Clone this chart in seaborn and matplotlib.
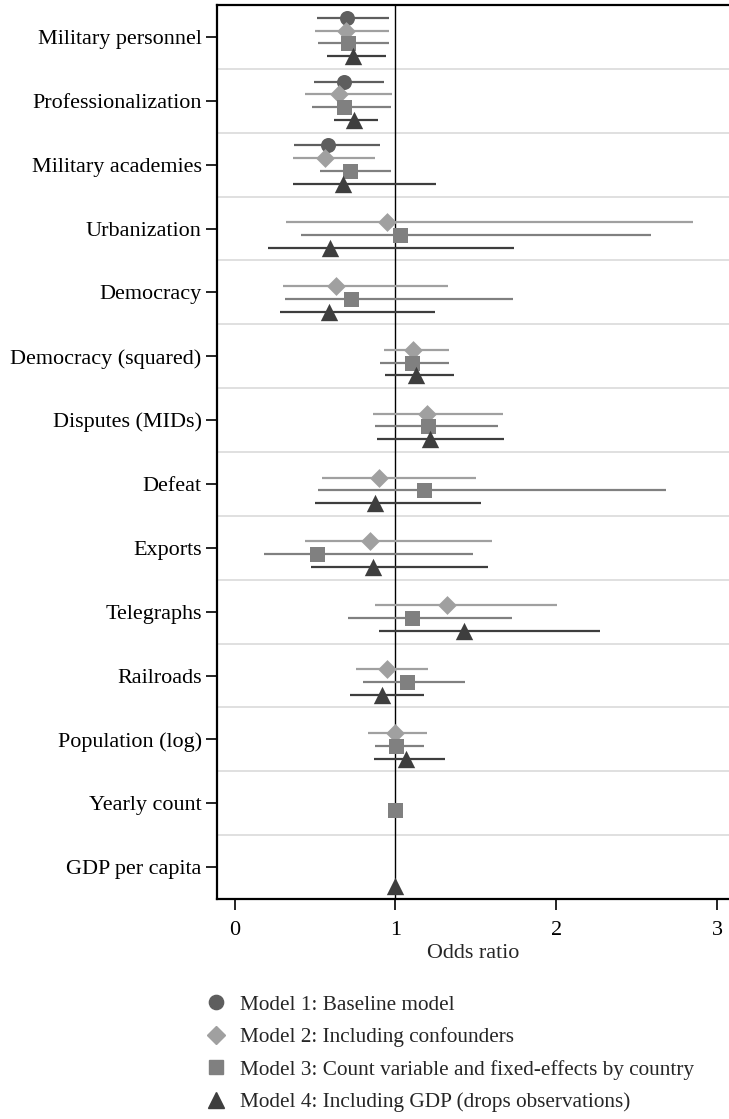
import numpy as np
import pandas as pd
import matplotlib
matplotlib.use('Agg')
import matplotlib.pyplot as plt
import seaborn as sns
from matplotlib.lines import Line2D

nan = np.nan

variables = ['Military personnel', 'Professionalization', 'Military academies',
             'Urbanization', 'Democracy', 'Democracy (squared)', 'Disputes (MIDs)',
             'Defeat', 'Exports', 'Telegraphs', 'Railroads', 'Population (log)',
             'Yearly count', 'GDP per capita']

model_names = ['Model 1: Baseline model',
               'Model 2: Including confounders',
               'Model 3: Count variable and fixed-effects by country',
               'Model 4: Including GDP (drops observations)']

# odds ratios and 95% CI per model
m1_or = [0.70, 0.68, 0.58, nan, nan, nan, nan, nan, nan, nan, nan, nan, nan, nan]
m1_lo = [0.51, 0.495, 0.37, nan, nan, nan, nan, nan, nan, nan, nan, nan, nan, nan]
m1_hi = [0.96, 0.93, 0.905, nan, nan, nan, nan, nan, nan, nan, nan, nan, nan, nan]

m2_or = [0.69, 0.65, 0.56, 0.95, 0.63, 1.11, 1.195, 0.90, 0.84, 1.32, 0.95, 0.995, nan, nan]
m2_lo = [0.50, 0.44, 0.36, 0.32, 0.30, 0.93, 0.86, 0.545, 0.44, 0.875, 0.755, 0.83, nan, nan]
m2_hi = [0.96, 0.98, 0.87, 2.85, 1.325, 1.335, 1.67, 1.50, 1.60, 2.005, 1.20, 1.195, nan, nan]

m3_or = [0.705, 0.68, 0.715, 1.03, 0.725, 1.10, 1.20, 1.18, 0.515, 1.10, 1.07, 1.005, 0.995, nan]
m3_lo = [0.52, 0.48, 0.53, 0.415, 0.31, 0.905, 0.875, 0.52, 0.18, 0.705, 0.80, 0.87, nan, nan]
m3_hi = [0.96, 0.97, 0.97, 2.59, 1.73, 1.335, 1.635, 2.685, 1.48, 1.725, 1.435, 1.175, nan, nan]

m4_or = [0.735, 0.74, 0.675, 0.595, 0.585, 1.13, 1.215, 0.875, 0.86, 1.425, 0.915, 1.065, nan, 1.0]
m4_lo = [0.575, 0.62, 0.365, 0.205, 0.28, 0.935, 0.885, 0.50, 0.475, 0.895, 0.715, 0.865, nan, nan]
m4_hi = [0.94, 0.89, 1.25, 1.735, 1.245, 1.365, 1.675, 1.535, 1.575, 2.275, 1.175, 1.31, nan, nan]

ors = [m1_or, m2_or, m3_or, m4_or]
los = [m1_lo, m2_lo, m3_lo, m4_lo]
his = [m1_hi, m2_hi, m3_hi, m4_hi]

# style
colors = ['#5e5e5e', '#a0a0a0', '#808080', '#3e3e3e']
markers = ['o', 'D', 's', '^']
msizes = [10.8, 9.6, 10.8, 12.5]
offsets = [-0.3, -0.1, 0.1, 0.3]

sns.set_style('white')
plt.rcParams['font.family'] = ['Liberation Serif', 'DejaVu Serif']
fs = 15.9

fig = plt.figure(figsize=(7.29, 11.19), dpi=100)
ax = fig.add_axes([217 / 729, 1 - 899 / 1119, 1 - 217 / 729, (899 - 5) / 1119])

# separators between variables
for b in np.arange(0.5, len(variables) - 1, 1):
    ax.axhline(b, color='#e0e0e0', lw=1.4, zorder=0)
ax.axvline(1, color='black', lw=1.0, zorder=1)

for k in range(4):
    df = pd.DataFrame({'var': variables, 'or': ors[k], 'lo': los[k], 'hi': his[k]})
    df['y'] = np.arange(len(variables)) + offsets[k]
    ci = df.dropna(subset=['lo'])
    ax.hlines(ci['y'], ci['lo'], ci['hi'], color=colors[k], lw=1.6, zorder=2 + k)
    sns.scatterplot(data=df.dropna(subset=['or']), x='or', y='y', marker=markers[k],
                    s=msizes[k] ** 2, color=colors[k], linewidth=0, ax=ax,
                    zorder=10 + k, legend=False)

ax.set_xlim(-0.11, 3.075)
ax.set_ylim(len(variables) - 0.5, -0.5)
ax.set_yticks(range(len(variables)))
ax.set_yticklabels(variables, fontsize=fs)
ax.set_xticks([0, 1, 2, 3])
ax.set_xticklabels(['0', '1', '2', '3'], fontsize=fs)
ax.set_xlabel('Odds ratio', fontsize=fs, labelpad=3)
ax.set_ylabel('')
ax.tick_params(axis='y', length=8, width=1.2, direction='out', pad=3,
               left=True, colors='black')
ax.tick_params(axis='x', length=8, width=1.2, direction='out', pad=7.5,
               bottom=True, colors='black')
for s in ['left', 'bottom', 'top']:
    ax.spines[s].set_color('black')
    ax.spines[s].set_linewidth(1.6)
ax.spines['right'].set_visible(False)

handles = [Line2D([], [], marker=markers[k], color=colors[k], linestyle='none',
                  markersize=msizes[k] * 0.95) for k in range(4)]
fig.legend(handles, model_names, loc='upper left', bbox_to_anchor=(195 / 729, 1 - 984 / 1119),
           frameon=False, fontsize=15.3, handlelength=1.0, handletextpad=0.6,
           labelspacing=0.6, borderpad=0)

fig.savefig('out.png', dpi=100)
